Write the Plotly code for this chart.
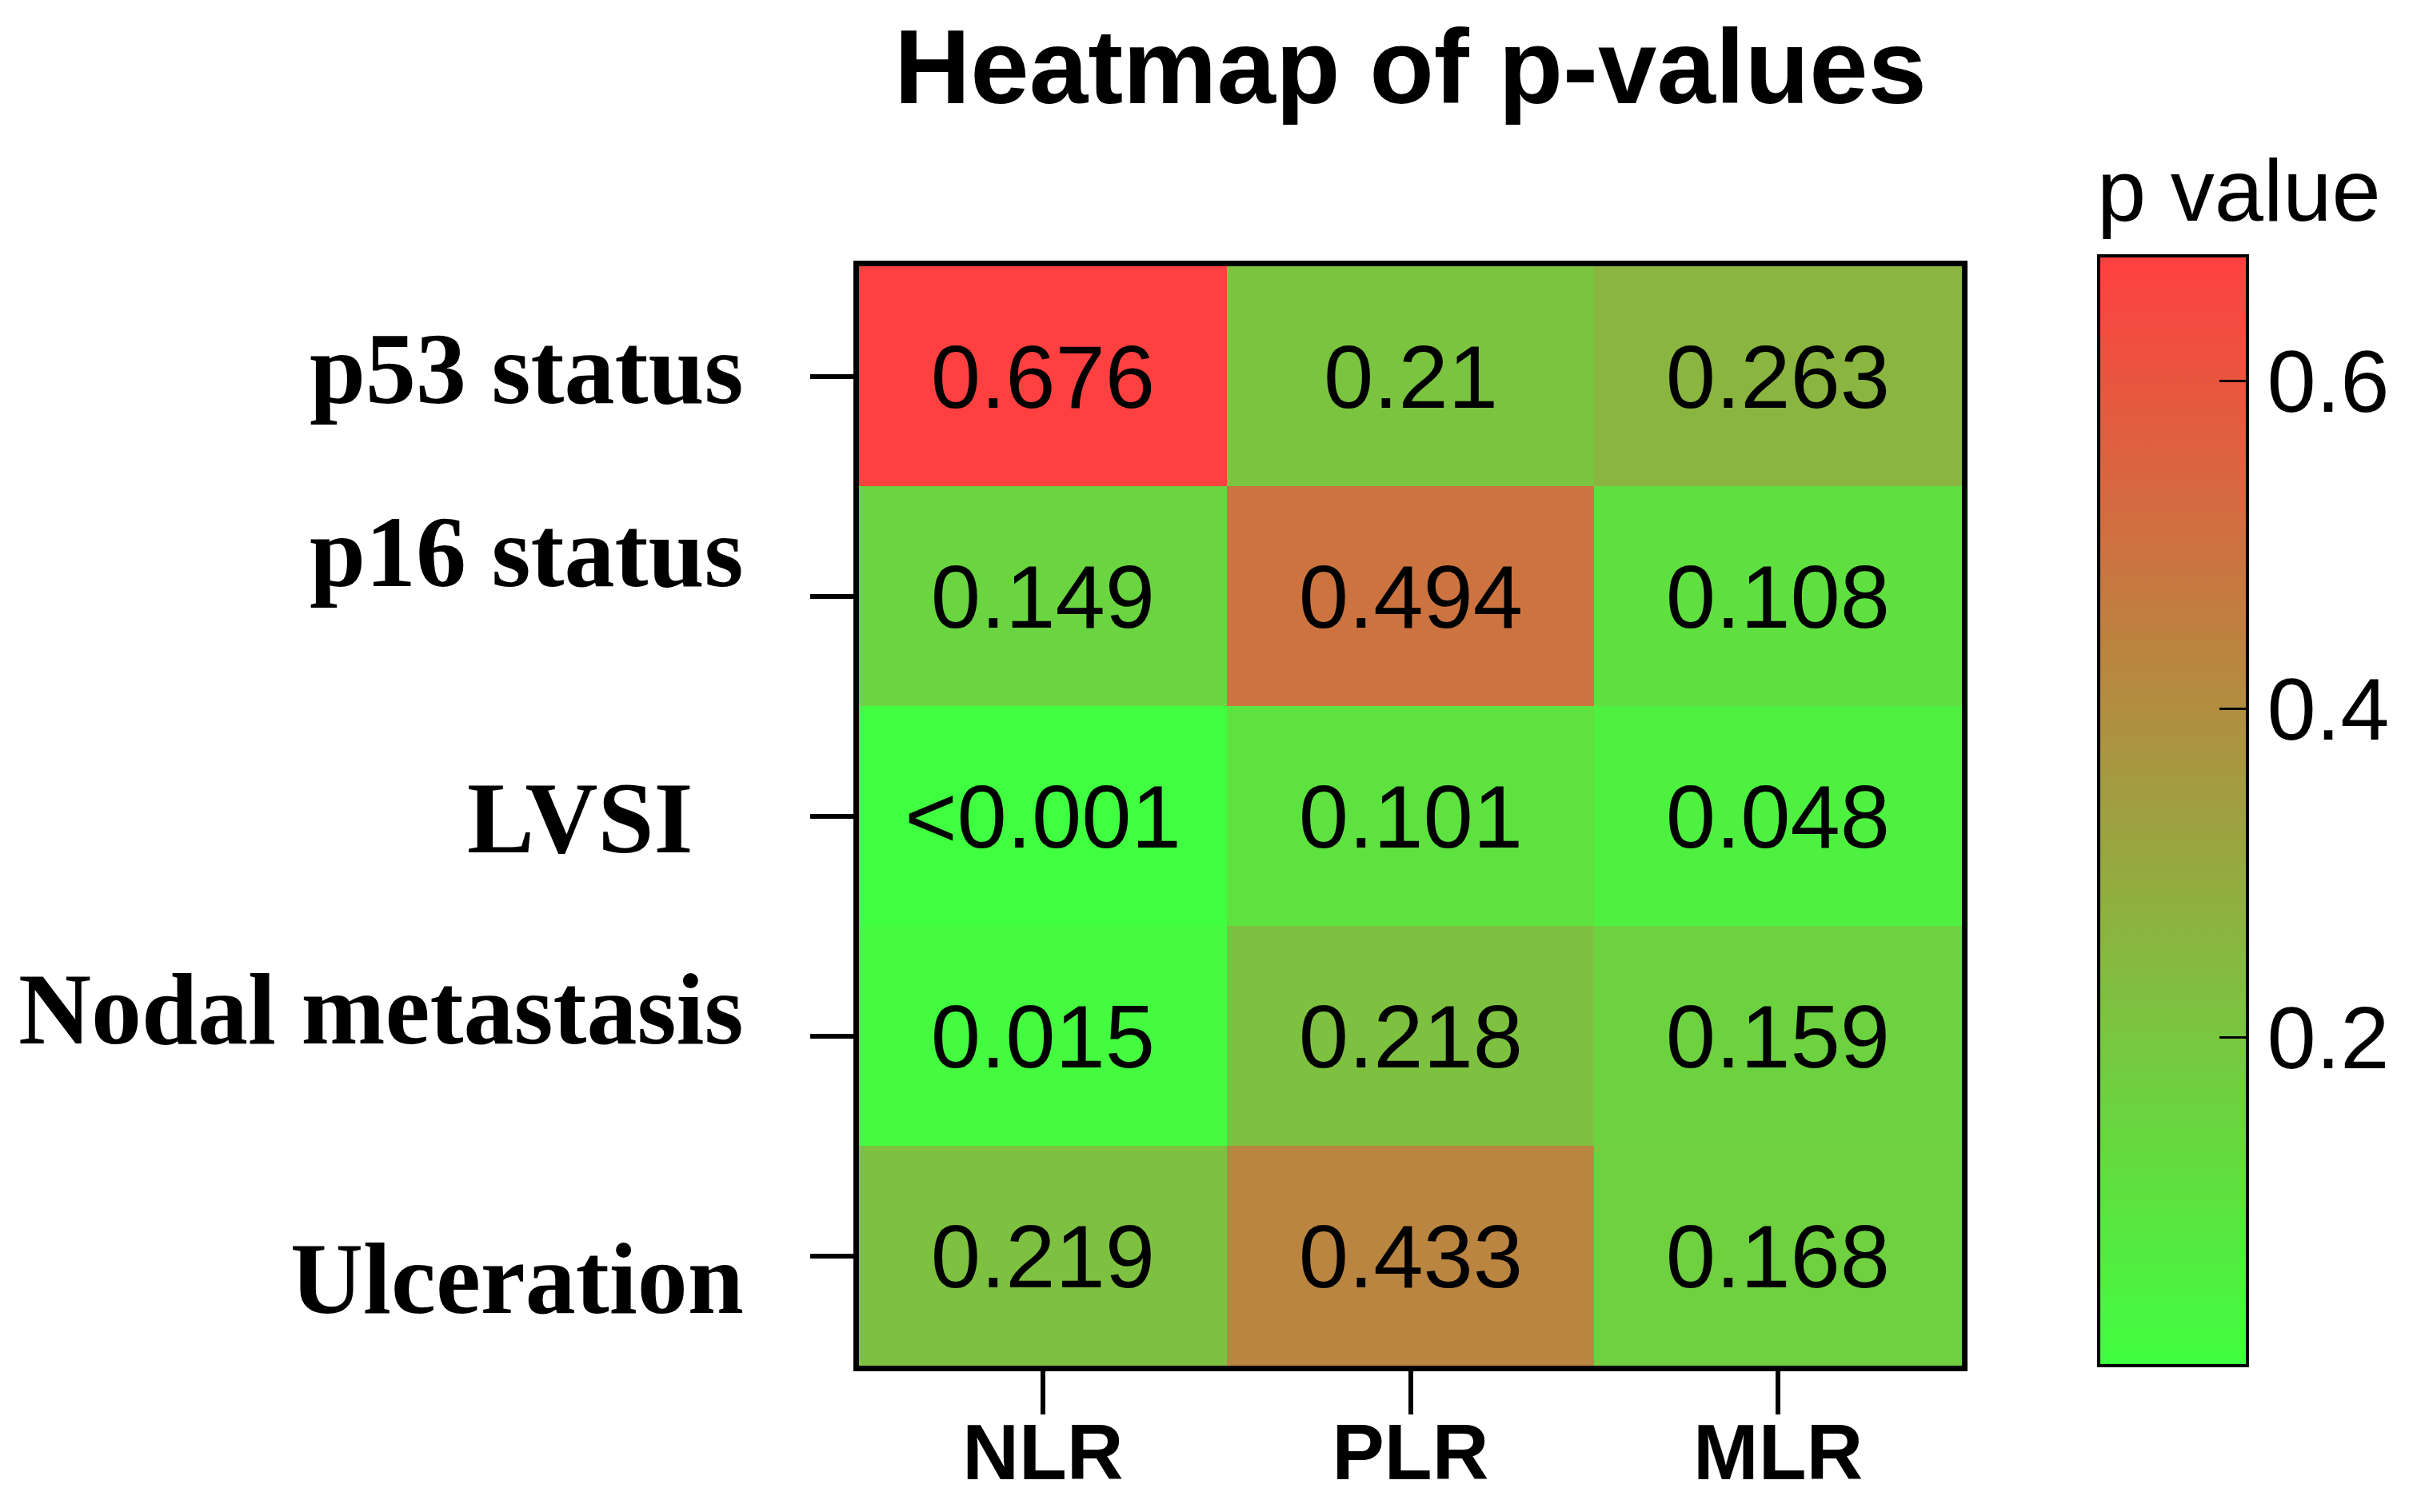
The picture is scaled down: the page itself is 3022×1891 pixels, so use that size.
import plotly.graph_objects as go

# Dados do heatmap (p-values)
grupos = ["NLR", "PLR", "MLR"]
variaveis = ["p53 status", "p16 status", "LVSI", "Nodal metastasis", "Ulceration"]

p_valores = [
    [0.676, 0.210, 0.263],
    [0.149, 0.494, 0.108],
    [0.001, 0.101, 0.048],
    [0.015, 0.218, 0.159],
    [0.219, 0.433, 0.168],
]

rotulos_celulas = [
    ["0.676", "0.21", "0.263"],
    ["0.149", "0.494", "0.108"],
    ["&lt;0.001", "0.101", "0.048"],
    ["0.015", "0.218", "0.159"],
    ["0.219", "0.433", "0.168"],
]

ticks_barra = [0.2, 0.4, 0.6]

# deslocamentos dos rotulos do eixo y (como no original)
desloc_y = [9, 55, -3, 33, -29]
desloc_x = [0, 0, -63, 0, 0]

fig = go.Figure()

fig.add_trace(go.Heatmap(
    z=p_valores,
    x=grupos,
    y=variaveis,
    text=rotulos_celulas,
    texttemplate="%{text}",
    textfont=dict(family="Liberation Sans, Arial", size=112, color="black"),
    colorscale=[[0, "#40FF40"], [1, "#FF4040"]],
    zmin=0,
    zmax=0.676,
    xgap=0,
    ygap=0,
    colorbar=dict(
        title=dict(text="p value", side="top",
                   font=dict(family="Liberation Sans, Arial", size=110, color="black")),
        tickvals=ticks_barra,
        ticktext=[str(v) for v in ticks_barra],
        ticks="inside",
        ticklen=37,
        tickwidth=3,
        tickcolor="black",
        tickfont=dict(family="Liberation Sans, Arial", size=110, color="black"),
        outlinewidth=4,
        outlinecolor="black",
        thickness=186,
        lenmode="pixels",
        len=1516,
        x=1.124,
        xanchor="left",
        y=0,
        yanchor="bottom",
        xpad=0,
        ypad=0,
    ),
))

# Rotulos do eixo y como anotacoes (para manter os deslocamentos)
for nome, dy, dx in zip(variaveis, desloc_y, desloc_x):
    fig.add_annotation(
        x=-0.1027, xref="paper", xanchor="right",
        y=nome, yref="y", yanchor="middle",
        yshift=dy, xshift=dx,
        text=nome, showarrow=False,
        font=dict(family="Liberation Serif, Times New Roman", size=126, color="black"),
    )

fig.update_xaxes(
    side="bottom",
    ticks="outside", ticklen=54, tickwidth=6, tickcolor="black",
    tickfont=dict(family="Liberation Sans, Arial", size=98, color="black", weight="bold"),
    ticklabelstandoff=-37,
    showline=True, linewidth=7, linecolor="black", mirror=True,
    showgrid=False, zeroline=False,
)
fig.update_yaxes(
    autorange="reversed",
    ticks="outside", ticklen=54, tickwidth=6, tickcolor="black",
    showticklabels=False,
    showline=True, linewidth=7, linecolor="black", mirror=True,
    showgrid=False, zeroline=False,
)

fig.update_annotations(font_weight="bold")

fig.update_layout(
    title=dict(text="<b>Heatmap of p-values</b>", x=0.5, xref="paper", xanchor="center",
               y=0.96, yref="container", yanchor="middle",
               font=dict(family="Liberation Sans, Arial", size=132, color="black")),
    width=3006,
    height=1875,
    autosize=False,
    margin=dict(l=1066, r=561, t=325, b=175, autoexpand=False),
    paper_bgcolor="white",
    plot_bgcolor="white",
)

fig.write_html("out.html")
